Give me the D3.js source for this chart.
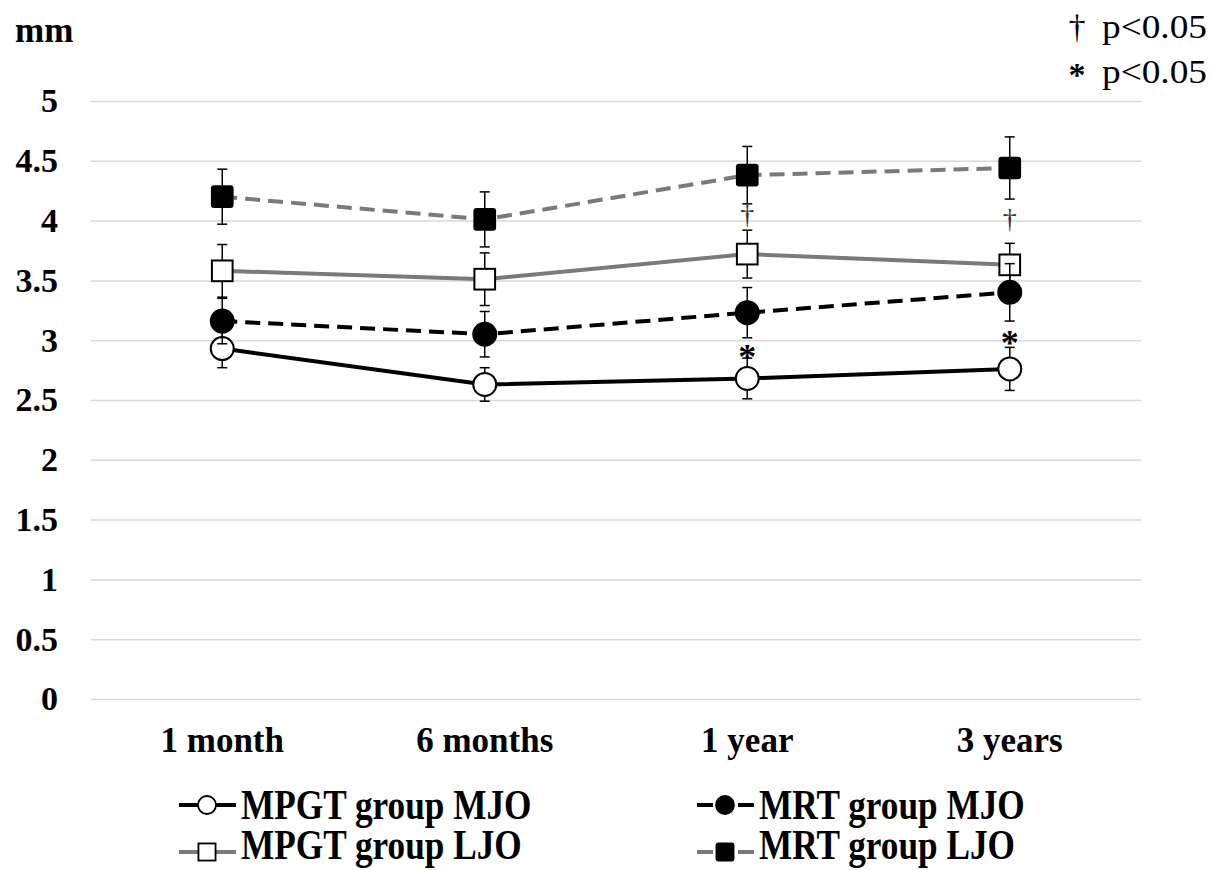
<!DOCTYPE html>
<html>
<head>
<meta charset="utf-8">
<script src="https://cdn.jsdelivr.net/npm/d3@7"></script>
<style>
  body { margin: 0; background: #fff; }
  text { font-family: "Liberation Serif", "Times New Roman", serif; }
</style>
</head>
<body>
<div id="chart"></div>
<script>
// values (mm)
const categories = ['1 month', '6 months', '1 year', '3 years'];
const yTicks = [0, 0.5, 1, 1.5, 2, 2.5, 3, 3.5, 4, 4.5, 5];

const mpgtMJO = [2.93, 2.63, 2.68, 2.76];
const mpgtMJOErr = [0.16, 0.14, 0.17, 0.18];
const mrtMJO = [3.16, 3.05, 3.23, 3.40];
const mrtMJOErr = [0.19, 0.19, 0.21, 0.24];
const mpgtLJO = [3.58, 3.51, 3.72, 3.63];
const mpgtLJOErr = [0.22, 0.22, 0.20, 0.18];
const mrtLJO = [4.20, 4.01, 4.38, 4.44];
const mrtLJOErr = [0.23, 0.23, 0.24, 0.26];

// significance marks: dagger between the LJO groups, star between the MJO groups
const daggerAt = ['1 year', '3 years'];
const starAt = ['1 year', '3 years'];

const dimensions = {
  width: 1210,
  height: 870,
  margin: { top: 101, bottom: 171, left: 91, right: 69 }
};

const series = [
  { name: 'MPGT group MJO', values: mpgtMJO, err: mpgtMJOErr, color: '#000', dash: null, marker: 'circle', fill: '#fff' },
  { name: 'MPGT group LJO', values: mpgtLJO, err: mpgtLJOErr, color: '#7a7a7a', dash: null, marker: 'square', fill: '#fff' },
  { name: 'MRT group MJO', values: mrtMJO, err: mrtMJOErr, color: '#000', dash: '15,8', marker: 'circle', fill: '#000' },
  { name: 'MRT group LJO', values: mrtLJO, err: mrtLJOErr, color: '#7a7a7a', dash: '15,8', marker: 'square', fill: '#000' }
];

const svg = d3.select('#chart').append('svg')
  .attr('width', dimensions.width)
  .attr('height', dimensions.height);

const x = d3.scaleBand()
  .domain(categories)
  .range([dimensions.margin.left, dimensions.width - dimensions.margin.right]);
const cx = c => x(c) + x.bandwidth() / 2;
const y = d3.scaleLinear()
  .domain([0, 5])
  .range([dimensions.height - dimensions.margin.bottom, dimensions.margin.top]);

// gridlines
const grid = svg.append('g')
  .attr('transform', `translate(${x.range()[0]},0)`)
  .call(d3.axisLeft(y).tickValues(yTicks).tickSize(-(x.range()[1] - x.range()[0])).tickFormat(''));
grid.select('.domain').remove();
grid.selectAll('line').attr('stroke', '#d9d9d9').attr('stroke-width', 1.5);

// y tick labels
const yAxis = svg.append('g')
  .attr('transform', 'translate(58,0)')
  .call(d3.axisLeft(y).tickValues(yTicks).tickSize(0).tickPadding(0).tickFormat(d => d));
yAxis.select('.domain').remove();
yAxis.selectAll('text')
  .attr('font-family', '"Liberation Serif", "Times New Roman", serif')
  .attr('font-weight', 'bold').attr('font-size', 34).attr('fill', '#000');

svg.append('text').text('mm')
  .attr('x', 15).attr('y', 42)
  .attr('font-weight', 'bold').attr('font-size', 35);

// x labels
const xAxis = svg.append('g')
  .attr('transform', `translate(0,${y(0)})`)
  .call(d3.axisBottom(x).tickSize(0).tickPadding(28));
xAxis.select('.domain').remove();
xAxis.selectAll('text')
  .attr('font-family', '"Liberation Serif", "Times New Roman", serif')
  .attr('font-weight', 'bold').attr('font-size', 35).attr('fill', '#000');

function drawMarker(g, s, px, py, r, sw) {
  if (s.marker === 'circle') {
    g.append('circle').attr('cx', px).attr('cy', py).attr('r', r)
      .attr('fill', s.fill).attr('stroke', '#000').attr('stroke-width', sw);
  } else {
    const side = r * 1.8;
    g.append('rect').attr('x', px - side / 2).attr('y', py - side / 2)
      .attr('width', side).attr('height', side)
      .attr('fill', s.fill).attr('stroke', '#000').attr('stroke-width', sw)
      .attr('rx', s.fill === '#000' ? 2 : 0);
  }
}

// series: line, error bars, markers
const line = d3.line().x(d => cx(d.c)).y(d => y(d.v));
series.forEach(s => {
  const pts = categories.map((c, i) => ({ c, v: s.values[i], e: s.err[i] }));
  const g = svg.append('g');
  g.append('path').datum(pts)
    .attr('d', line)
    .attr('fill', 'none')
    .attr('stroke', s.color)
    .attr('stroke-width', 4)
    .attr('stroke-dasharray', s.dash);

  pts.forEach(p => {
    const px = cx(p.c);
    g.append('line').attr('x1', px).attr('x2', px)
      .attr('y1', y(p.v - p.e)).attr('y2', y(p.v + p.e))
      .attr('stroke', '#000').attr('stroke-width', 1.5);
    [p.v - p.e, p.v + p.e].forEach(v => {
      g.append('line').attr('x1', px - 5).attr('x2', px + 5)
        .attr('y1', y(v)).attr('y2', y(v))
        .attr('stroke', '#000').attr('stroke-width', 1.5);
    });
  });
  pts.forEach(p => drawMarker(g, s, cx(p.c), y(p.v), 11.5, 2));
});

// significance marks on the chart
daggerAt.forEach(c => {
  const i = categories.indexOf(c);
  const mid = (y(mrtLJO[i] - mrtLJOErr[i]) + y(mpgtLJO[i] + mpgtLJOErr[i])) / 2;
  svg.append('text').text('†')
    .attr('x', cx(c)).attr('y', mid + 7)
    .attr('text-anchor', 'middle').attr('font-size', 28).attr('fill', '#333');
});
starAt.forEach(c => {
  const i = categories.indexOf(c);
  const mid = (y(mrtMJO[i] - mrtMJOErr[i]) + y(mpgtMJO[i] + mpgtMJOErr[i])) / 2;
  svg.append('text').text('*')
    .attr('x', cx(c)).attr('y', mid + 21)
    .attr('text-anchor', 'middle')
    .attr('font-family', '"DejaVu Sans", sans-serif')
    .attr('font-weight', 'bold').attr('font-size', 36);
});

// p-value notes
[['†', 38], ['*', 83]].forEach(([sym, yy]) => {
  const star = sym === '*';
  svg.append('text').text(sym)
    .attr('x', 1077).attr('y', star ? yy + 3 : yy)
    .attr('text-anchor', 'middle')
    .attr('font-family', star ? '"DejaVu Sans", sans-serif' : null)
    .attr('font-weight', star ? 'bold' : null)
    .attr('font-size', star ? 34 : 34);
  svg.append('text').text('p<0.05')
    .attr('x', 1102).attr('y', yy)
    .attr('font-size', 34)
    .attr('textLength', 105).attr('lengthAdjust', 'spacingAndGlyphs');
});

// legend: symbol row y and text baseline
const legendPos = [
  { x: 179, y: 805, base: 819 },
  { x: 179, y: 852, base: 859 },
  { x: 697, y: 805, base: 819 },
  { x: 697, y: 852, base: 859 }
];
series.forEach((s, i) => {
  const p = legendPos[i];
  const g = svg.append('g').attr('transform', `translate(${p.x},${p.y})`);
  g.append('line').attr('x1', 0).attr('x2', 57).attr('y1', 0).attr('y2', 0)
    .attr('stroke', s.color).attr('stroke-width', 4)
    .attr('stroke-dasharray', s.dash ? '16,25' : null);
  drawMarker(g, s, 28, 0, s.marker === 'circle' ? 9 : 9.5, 1.8);
  g.append('text').text(s.name)
    .attr('x', 0).attr('y', 0)
    .attr('font-weight', 'bold').attr('font-size', 43)
    .attr('transform', `translate(62,${p.base - p.y}) scale(0.82,1)`);
});
</script>
</body>
</html>
